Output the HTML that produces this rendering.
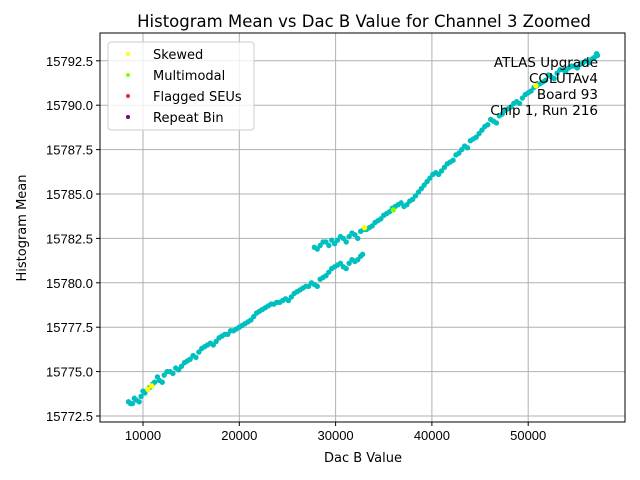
<!DOCTYPE html>
<html><head><meta charset="utf-8"><style>
body{margin:0;background:#fff}
svg{display:block;font-family:"DejaVu Sans","Liberation Sans",sans-serif}
</style></head><body>
<svg id="chart" width="640" height="480"></svg>
<script>
const dacMain=[8500,8900,9300,9800,10200,10700,11200,11700,12200,12800,13400,14000,14600,15200,15800,16400,17000,17600,18200,18800,19400,20000,20600,21200,21800,22400,23000,23600,24200,24800,25400,26000,26600,27200,27800,28400,29000,29600,30200,30800,31400,32000,32600,
27800,28400,29000,29600,30200,30800,31400,32000,32600,33200,33800,34400,35000,35600,36200,36800,37400,38000,38600,39200,39800,40400,41000,41600,42200,42800,43400,44000,44600,45200,45800,46400,47000,47600,48200,48800,49400,50000,50600,51200,51800,52400,53000,53600,54200,54800,55400,56000,56600,57200];
const meanMain=[15773.3,15773.2,15773.4,15773.6,15773.8,15774.1,15774.4,15774.5,15774.8,15775.0,15775.2,15775.3,15775.6,15775.9,15776.1,15776.4,15776.6,15776.7,15777.0,15777.1,15777.3,15777.5,15777.7,15777.9,15778.3,15778.5,15778.7,15778.8,15778.9,15779.1,15779.2,15779.5,15779.7,15779.8,15779.9,15780.2,15780.4,15780.8,15781.0,15780.9,15781.1,15781.2,15781.5,
15782.0,15782.1,15782.3,15782.4,15782.4,15782.5,15782.6,15782.7,15782.9,15783.0,15783.2,15783.5,15783.8,15784.0,15784.3,15784.5,15784.4,15784.7,15785.1,15785.5,15785.9,15786.2,15786.3,15786.7,15786.9,15787.3,15787.7,15788.0,15788.2,15788.6,15788.9,15789.1,15789.4,15789.7,15789.9,15790.2,15790.4,15790.7,15791.0,15791.2,15791.4,15791.6,15791.8,15792.0,15792.1,15792.2,15792.3,15792.5,15792.6,15792.8];
const dacExtra=[8700,9100,9600,10000,10500,11000,11500,12000,12500,13100,13700,14300,14900,15500,16100,16700,17300,17900,18500,19100,19700,20300,20900,21500,22100,22700,23300,23900,24500,25100,25700,26300,26900,27500,28100,28700,29300,29900,30500,31100,31700,32300,32800,
28100,28700,29300,29900,30500,31100,31700,32300,32900,33500,34100,34700,35300,35900,36500,37100,37700,38300,38900,39500,40100,40700,41300,41900,42500,43100,43700,44300,44900,45500,46100,46700,47300,47900,48500,49100,49700,50300,50900,51500,52100,52700,53300,53900,54500,55100,55700,56300,56900,57100];
const meanExtra=[15773.2,15773.5,15773.3,15773.9,15774.0,15774.3,15774.7,15774.4,15775.0,15774.9,15775.1,15775.5,15775.7,15775.8,15776.3,15776.5,15776.5,15776.9,15777.1,15777.3,15777.4,15777.6,15777.8,15778.1,15778.4,15778.6,15778.8,15778.9,15779.0,15779.0,15779.4,15779.6,15779.8,15780.0,15779.8,15780.3,15780.6,15780.9,15781.1,15780.8,15781.3,15781.3,15781.6,
15781.9,15782.3,15782.1,15782.2,15782.6,15782.3,15782.8,15782.5,15783.0,15783.1,15783.4,15783.6,15783.9,15784.2,15784.4,15784.3,15784.6,15784.9,15785.3,15785.7,15786.1,15786.1,15786.5,15786.8,15787.2,15787.5,15787.6,15788.1,15788.4,15788.8,15789.2,15789.0,15789.5,15789.8,15790.1,15790.1,15790.6,15790.8,15791.1,15791.3,15791.7,15791.5,15792.0,15791.9,15792.2,15792.1,15792.4,15792.4,15792.7,15792.9];
const dacSkew=[10500,10900,33000,50800];
const meanSkew=[15774.0,15774.2,15783.1,15791.1];
const dacMulti=[36000];
const meanMulti=[15784.1];
const xTicks=[10000,20000,30000,40000,50000];
const yTicks=[15772.5,15775.0,15777.5,15780.0,15782.5,15785.0,15787.5,15790.0,15792.5];

const NS="http://www.w3.org/2000/svg";
const svg=document.getElementById('chart');
const L=100,R=625,T=33,B=422;
function sx(v){return 46.7+v*96.3/10000;}
function sy(v){return 416-(v-15772.5)*44.4/2.5;}
function mk(tag,attrs,parent){const e=document.createElementNS(NS,tag);for(const k in attrs)e.setAttribute(k,attrs[k]);(parent||svg).appendChild(e);return e;}
function txt(x,y,s,size,anchor,parent){const t=mk('text',{x:x,y:y,'font-size':size,'text-anchor':anchor||'middle',fill:'#000'},parent);t.textContent=s;return t;}

const grid=mk('g',{});


xTicks.forEach(v=>{mk('line',{x1:sx(v),x2:sx(v),y1:T,y2:B,stroke:'#b0b0b0','stroke-width':1},grid);});
yTicks.forEach(v=>{mk('line',{x1:L,x2:R,y1:sy(v),y2:sy(v),stroke:'#b0b0b0','stroke-width':1},grid);});

const pts=mk('g',{});


function plot(xs,ys,color,name){xs.forEach((d,i)=>{const c=mk('circle',{cx:sx(d),cy:sy(ys[i]),r:2.7,fill:color},pts);

});}
plot(dacMain,meanMain,'#00bfbf','point');
plot(dacExtra,meanExtra,'#00bfbf','point');
plot(dacSkew,meanSkew,'#ffff00','skewed-point');
plot(dacMulti,meanMulti,'#7fff00','multimodal-point');

const ax=mk('g',{});


mk('rect',{x:L,y:T,width:R-L,height:B-T,fill:'none',stroke:'#000','stroke-width':1},ax);
xTicks.forEach(v=>{mk('line',{x1:sx(v),x2:sx(v),y1:B,y2:B+4,stroke:'#000'},ax);
const t=txt(sx(v),B+18,String(v),13,'middle',ax);
t.setAttribute('font-family','Liberation Sans');

});
yTicks.forEach(v=>{mk('line',{x1:L-4,x2:L,y1:sy(v),y2:sy(v),stroke:'#000'},ax);
const t=txt(L-7,sy(v)+5,v.toFixed(1),13,'end',ax);
t.setAttribute('font-family','Liberation Sans');

});

const title=txt(364,27,'Histogram Mean vs Dac B Value for Channel 3 Zoomed',16.5);


const xl=txt(363,462,'Dac B Value',13);


const yl=txt(0,0,'Histogram Mean',13);
yl.setAttribute('transform','translate(26,228) rotate(-90)');



const ann=mk('g',{});


['ATLAS Upgrade','COLUTAv4 ','Board 93','Chip 1, Run 216'].forEach((s,i)=>{const t=txt(598,67+i*16,s,13.5,'end',ann);t.setAttribute('xml:space','preserve');});

const lg=mk('g',{});


mk('rect',{x:108,y:42,width:146,height:88,rx:3,fill:'#fff','fill-opacity':0.8,stroke:'#cccccc'},lg);
[['Skewed','#ffff00'],['Multimodal','#7fff00'],['Flagged SEUs','#ff2020'],['Repeat Bin','#800080']].forEach((e,i)=>{
const g=mk('g',{},lg);


mk('circle',{cx:128,cy:54+i*21,r:2,fill:e[1]},g);
txt(153,59+i*21,e[0],13,'start',g);});
</script>
</body></html>
